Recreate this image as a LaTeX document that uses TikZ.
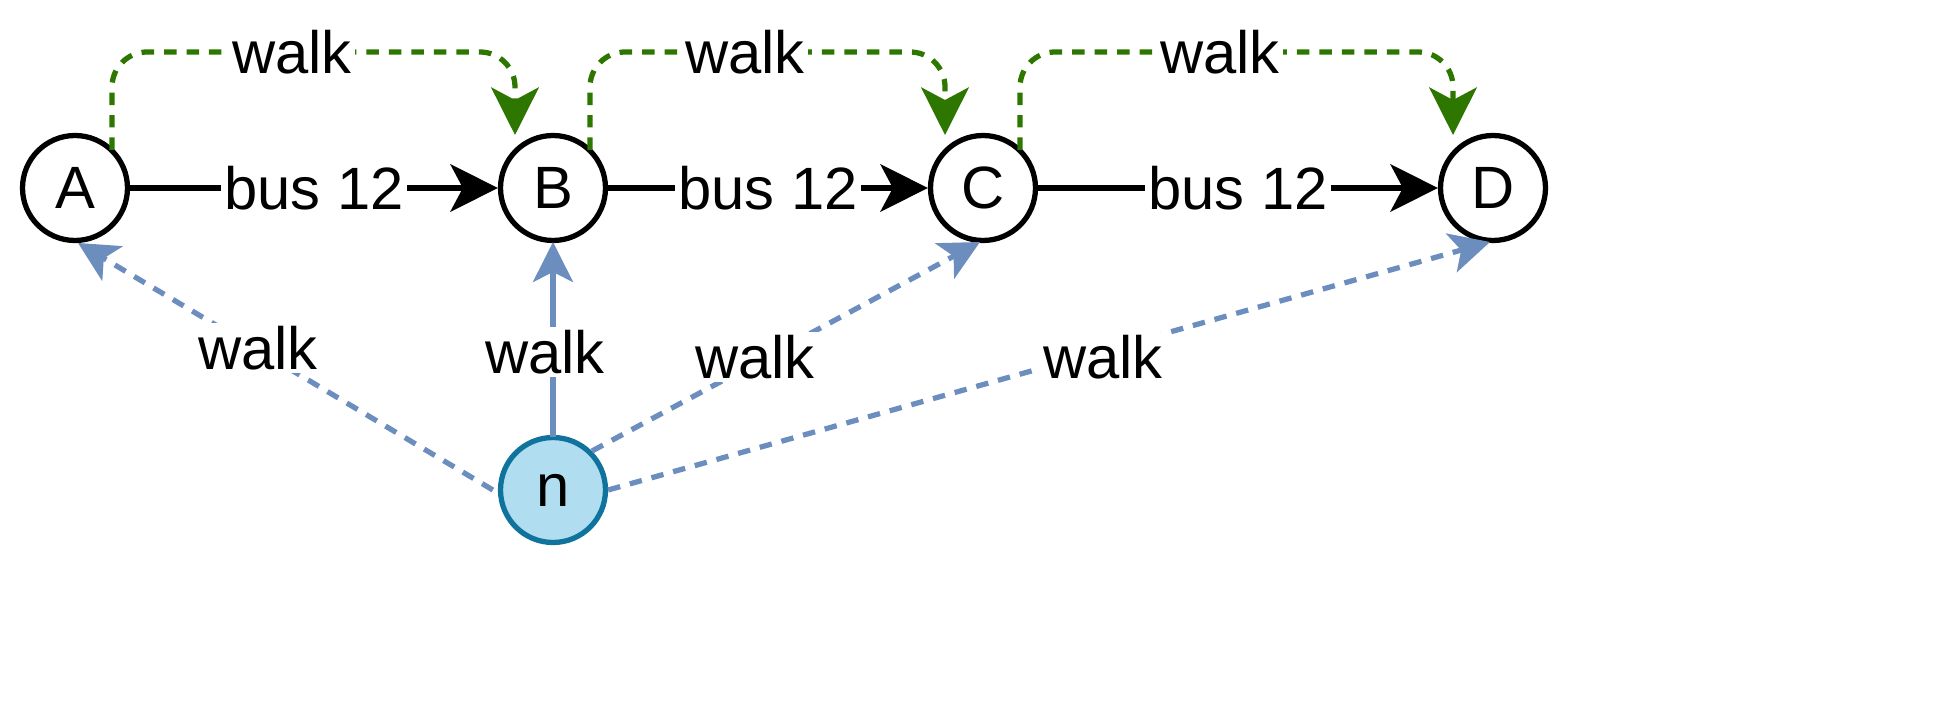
\documentclass[tikz,border=0pt]{standalone}
\usepackage{fontspec}
\setmainfont{Liberation Sans}
\usetikzlibrary{arrows.meta}
\definecolor{gr}{HTML}{2D7600}
\definecolor{bl}{HTML}{6C8EBF}
\definecolor{nf}{HTML}{B1DDF0}
\definecolor{ns}{HTML}{10739E}
\begin{document}
\begin{tikzpicture}[x=0.02cm,y=-0.02cm,
  st/.style={circle,draw=black,line width=3pt,minimum size=2.1cm,inner sep=0pt,fill=white,font=\fontsize{34}{40}\selectfont},
  lab/.style={fill=white,inner sep=2pt,font=\fontsize{34}{40}\selectfont},
  bus/.style={line width=3pt,-{Stealth[length=0.95cm,width=0.95cm,inset=0.25cm]}},
  gw/.style={gr,line width=3pt,dash pattern=on 0.25cm off 0.2cm,rounded corners=0.7cm,-{Stealth[length=0.95cm,width=0.95cm,inset=0.25cm]}},
  bw/.style={bl,line width=3pt,dash pattern=on 0.25cm off 0.2cm,-{Stealth[length=0.8cm,width=0.8cm,inset=0.2cm]}}]
\useasboundingbox (0,0) rectangle (1956,705);
\node[st] (A) at (75,188) {A};
\node[st] (B) at (553,188) {B};
\node[st] (C) at (983,188) {C};
\node[st] (D) at (1493,188) {D};
\node[st,draw=ns,fill=nf] (n) at (553,490) {n};
\draw[bus] (A) -- node[lab]{bus 12} (B);
\draw[bus] (B) -- node[lab]{bus 12} (C);
\draw[bus] (C) -- node[lab]{bus 12} (D);
\coordinate (a1) at (112,150); \coordinate (b1) at (515,135);
\coordinate (b2) at (590,150); \coordinate (c2) at (945,135);
\coordinate (c3) at (1020,150); \coordinate (d3) at (1453,135);
\draw[gw] (a1) -- (112,52) -- (515,52) -- (b1);
\node[lab] at (292,52) {walk};
\draw[gw] (b2) -- (590,52) -- (945,52) -- (c2);
\node[lab] at (745,52) {walk};
\draw[gw] (c3) -- (1020,52) -- (1453,52) -- (d3);
\node[lab] at (1220,52) {walk};
\coordinate (ta) at (78,243); \coordinate (tb) at (553,242);
\coordinate (tc) at (980,242); \coordinate (td) at (1490,242);
\draw[bw] (n.west) ++(-5,0) -- (ta);
\draw[bw,solid] (n) ++(0,-53) -- (tb);
\draw[bw] (n.north east) -- (tc);
\draw[bw] (n.east) -- (td);
\node[lab] at (258,348) {walk};
\node[lab] at (545,352) {walk};
\node[lab] at (755,357) {walk};
\node[lab] at (1103,357) {walk};
\end{tikzpicture}
\end{document}
